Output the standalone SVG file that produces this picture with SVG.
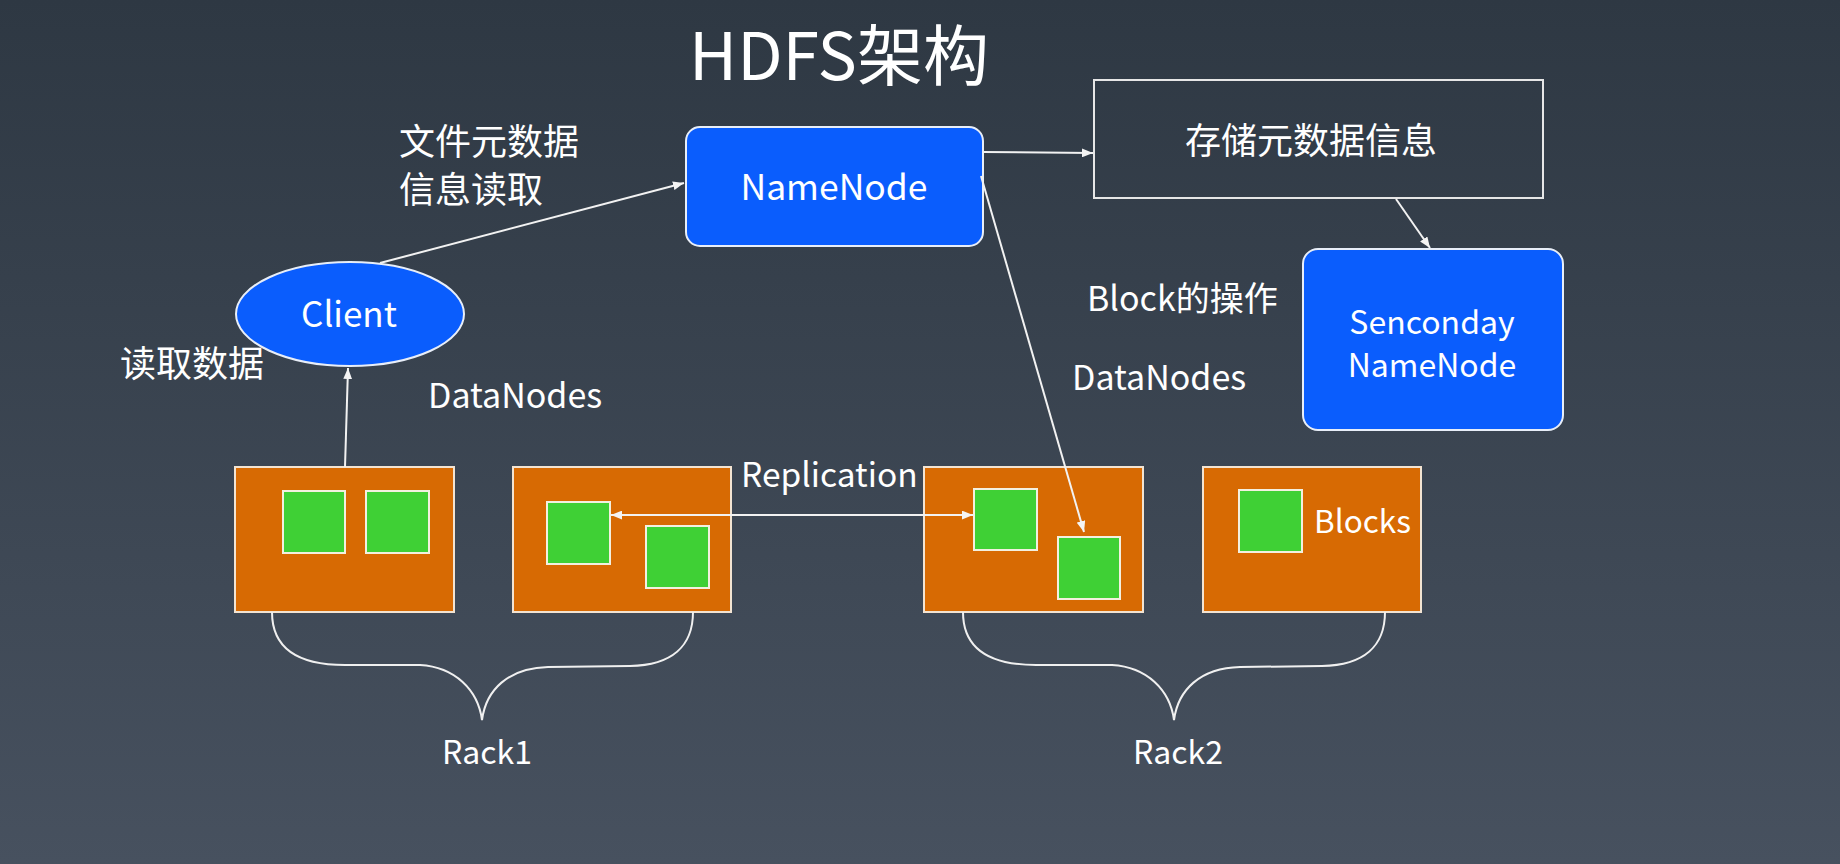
<svg xmlns="http://www.w3.org/2000/svg" width="1840" height="864" viewBox="0 0 1840 864">
  <defs>
    <linearGradient id="bg" x1="0" y1="0" x2="0" y2="1">
      <stop offset="0" stop-color="#2e3843"/>
      <stop offset="1" stop-color="#47515f"/>
    </linearGradient>
    <marker id="arr" viewBox="0 0 10 8" markerWidth="11" markerHeight="9" refX="10" refY="4" orient="auto-start-reverse" markerUnits="userSpaceOnUse">
      <path d="M0,0 L10,4 L0,8 z" fill="#f4f4f4"/>
    </marker>
  </defs>
  <style>
    text { font-family: "Noto Sans CJK SC", "Noto Sans", sans-serif; fill: #ffffff; }
    .t36 { font-size: 36px; }
    .t34 { font-size: 34px; }
    .mid { text-anchor: middle; }
    .blue { fill: #0a5dfd; stroke: #e8eef8; stroke-width: 2; }
    .dn { fill: #d76a03; stroke: #f3e4d2; stroke-width: 2; }
    .blk { fill: #3fd035; stroke: #f3f0e0; stroke-width: 2; }
    .conn { stroke: #f2f2f2; stroke-width: 2; fill: none; }
    .brace { stroke: #f0f0f0; stroke-width: 2; fill: none; }
  </style>
  <rect x="0" y="0" width="1840" height="864" fill="url(#bg)"/>

  <text x="839" y="80" class="mid" font-size="66">HDFS架构</text>

  <g id="namenode">
    <rect x="686" y="127" width="297" height="119" rx="14" class="blue"/>
    <text x="834" y="200" class="mid" font-size="35.5">NameNode</text>
  </g>

  <g id="storage">
    <rect x="1094" y="80" width="449" height="118" fill="none" stroke="#e6e6e6" stroke-width="2"/>
    <text x="1311" y="154" class="t36 mid">存储元数据信息</text>
  </g>

  <g id="secondary">
    <rect x="1303" y="249" width="260" height="181" rx="15" class="blue"/>
    <text x="1432" y="334" class="mid" font-size="32">Senconday</text>
    <text x="1432" y="377" class="mid" font-size="32">NameNode</text>
  </g>

  <g id="client">
    <ellipse cx="350" cy="314" rx="114" ry="52" class="blue"/>
    <text x="349" y="327" class="mid" font-size="35">Client</text>
  </g>

  <g id="datanode1">
    <rect x="235" y="467" width="219" height="145" class="dn"/>
    <rect x="283" y="491" width="62" height="62" class="blk"/>
    <rect x="366" y="491" width="63" height="62" class="blk"/>
  </g>
  <g id="datanode2">
    <rect x="513" y="467" width="218" height="145" class="dn"/>
    <rect x="547" y="502" width="63" height="62" class="blk"/>
    <rect x="646" y="526" width="63" height="62" class="blk"/>
  </g>
  <g id="datanode3">
    <rect x="924" y="467" width="219" height="145" class="dn"/>
    <rect x="974" y="489" width="63" height="61" class="blk"/>
    <rect x="1058" y="537" width="62" height="62" class="blk"/>
  </g>
  <g id="datanode4">
    <rect x="1203" y="467" width="218" height="145" class="dn"/>
    <rect x="1239" y="490" width="63" height="62" class="blk"/>
    <text x="1314" y="533" font-size="31.5">Blocks</text>
  </g>

  <g id="labels">
    <text x="399" y="155" class="t36">文件元数据</text>
    <text x="399" y="203" class="t36">信息读取</text>
    <text x="120" y="377" class="t36">读取数据</text>
    <text x="428" y="408" class="t34">DataNodes</text>
    <text x="1087" y="311" class="t34">Block的操作</text>
    <text x="1072" y="390" class="t34">DataNodes</text>
    <text x="741" y="487" font-size="33.5">Replication</text>
    <text x="487" y="764" class="mid" font-size="32">Rack1</text>
    <text x="1178" y="764" class="mid" font-size="32">Rack2</text>
  </g>

  <g id="connectors">
    <line x1="380" y1="263" x2="684" y2="183" class="conn" marker-end="url(#arr)"/>
    <line x1="983" y1="152" x2="1093" y2="153" class="conn" marker-end="url(#arr)"/>
    <line x1="1396" y1="199" x2="1430" y2="248" class="conn" marker-end="url(#arr)"/>
    <line x1="981" y1="176" x2="1084" y2="532" class="conn" marker-end="url(#arr)"/>
    <line x1="345" y1="467" x2="348" y2="368" class="conn" marker-end="url(#arr)"/>
    <line x1="611" y1="515" x2="973" y2="515" class="conn" marker-start="url(#arr)" marker-end="url(#arr)"/>
    <path class="brace" d="M272,612 C272,648 298,665 345,665 L420,665 C455,667 478,690 482,720 C486,690 508,668 548,667 L630,666 C672,665 693,646 693,612"/>
    <path class="brace" d="M963,612 C963,648 989,665 1036,665 L1112,665 C1147,667 1170,690 1174,720 C1178,690 1200,668 1240,667 L1322,666 C1364,665 1385,646 1385,612"/>
  </g>
</svg>
